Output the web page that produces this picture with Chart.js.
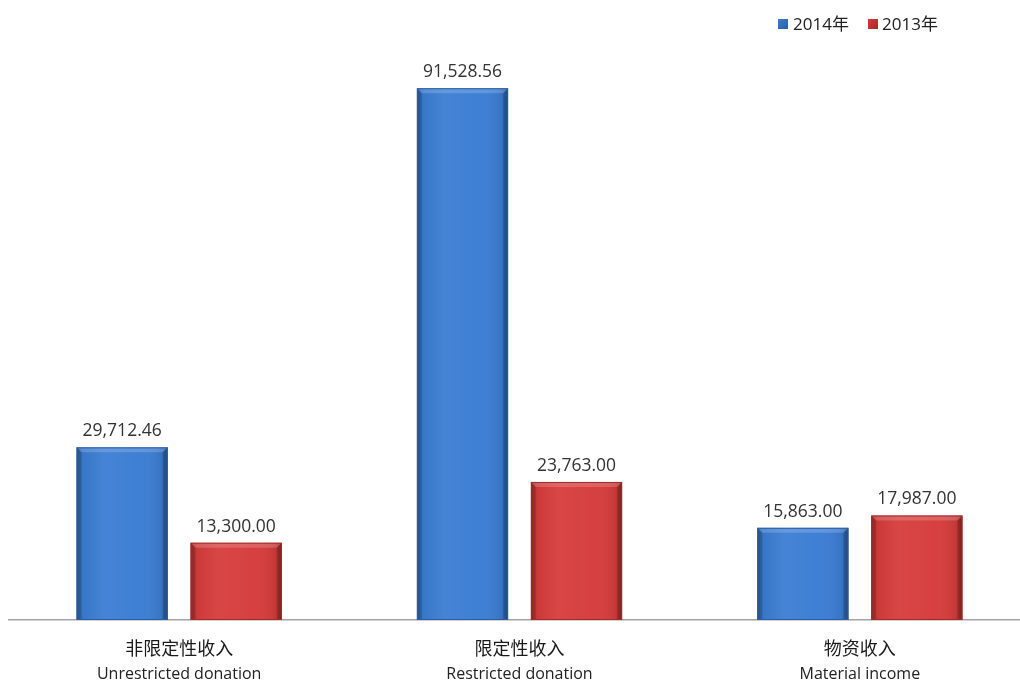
<!DOCTYPE html>
<html>
<head>
<meta charset="utf-8">
<script src="https://cdn.jsdelivr.net/npm/chart.js@4/dist/chart.umd.min.js"></script>
<style>
  html,body{margin:0;padding:0;background:#fff;overflow:hidden;}
  #wrap{position:relative;width:1030px;height:682px;}
</style>
</head>
<body>
<div id="wrap"><canvas id="c"></canvas></div>
<script>
const categoriesCN = ["非限定性收入", "限定性收入", "物资收入"];
const categoriesEN = ["Unrestricted donation", "Restricted donation", "Material income"];
const seriesNames = ["2014年", "2013年"];
const values2014 = [29712.46, 91528.56, 15863.00];
const values2013 = [13300.00, 23763.00, 17987.00];
const seriesColors = ["#3b7dd3", "#d63c3c"];
const seriesEdge = ["#2a5ea6", "#a52a2a"];

function fmt(v){
  return v.toLocaleString('en-US',{minimumFractionDigits:2, maximumFractionDigits:2});
}

const bevelPlugin = {
  id:'bevel',
  afterDatasetsDraw(chart){
    const ctx = chart.ctx;
    chart.data.datasets.forEach((ds,di)=>{
      const meta = chart.getDatasetMeta(di);
      meta.data.forEach((bar, i)=>{
        const w = bar.width, l = bar.x - w/2, r = bar.x + w/2, t = bar.y, b = bar.base;
        ctx.save();
        const g = ctx.createLinearGradient(l,0,r,0);
        g.addColorStop(0,'rgba(0,0,0,0.28)');
        g.addColorStop(0.07,'rgba(0,0,0,0.05)');
        g.addColorStop(0.3,'rgba(255,255,255,0.05)');
        g.addColorStop(0.7,'rgba(255,255,255,0.02)');
        g.addColorStop(0.93,'rgba(0,0,0,0.08)');
        g.addColorStop(1,'rgba(0,0,0,0.32)');
        ctx.fillStyle = g;
        ctx.fillRect(l,t,w,b-t);
        ctx.beginPath();
        ctx.moveTo(l,t); ctx.lineTo(r,t); ctx.lineTo(r-5,t+5); ctx.lineTo(l+5,t+5); ctx.closePath();
        ctx.fillStyle='rgba(255,255,255,0.18)';
        ctx.fill();
        ctx.beginPath();
        ctx.moveTo(l,t); ctx.lineTo(l+5,t+5); ctx.lineTo(l+5,b); ctx.lineTo(l,b); ctx.closePath();
        ctx.fillStyle='rgba(0,0,0,0.12)'; ctx.fill();
        ctx.beginPath();
        ctx.moveTo(r,t); ctx.lineTo(r-5,t+5); ctx.lineTo(r-5,b); ctx.lineTo(r,b); ctx.closePath();
        ctx.fillStyle='rgba(0,0,0,0.16)'; ctx.fill();
        ctx.strokeStyle = seriesEdge[di];
        ctx.lineWidth = 1;
        ctx.strokeRect(l+0.5,t+0.5,w-1,b-t-1);
        ctx.restore();
        ctx.save();
        ctx.font = '17.5px "Open Sans", sans-serif';
        ctx.fillStyle = '#333';
        ctx.textAlign = 'center';
        ctx.textBaseline = 'middle';
        ctx.fillText(fmt(ds.data[i]), bar.x, t - 16);
        ctx.restore();
      });
    });
    const pos = [{sq:778, tx:793},{sq:868, tx:882}];
    chart.data.datasets.forEach((ds,di)=>{
      const p = pos[di];
      ctx.save();
      const g = ctx.createLinearGradient(p.sq,19,p.sq+10,29);
      g.addColorStop(0, ds.backgroundColor);
      g.addColorStop(1, seriesEdge[di]);
      ctx.fillStyle = g;
      ctx.fillRect(p.sq,19,10,10);
      ctx.font = '17px "Open Sans", "Noto Sans CJK SC", sans-serif';
      ctx.fillStyle = '#222';
      ctx.textAlign = 'left';
      ctx.textBaseline = 'middle';
      ctx.fillText(ds.label, p.tx, 25);
      ctx.restore();
    });
  }
};

new Chart(document.getElementById('c'), {
  type:'bar',
  data:{
    labels: categoriesCN,
    datasets:[
      {label:seriesNames[0], data:values2014, backgroundColor:seriesColors[0], xAxisID:'x', barPercentage:0.8, categoryPercentage:0.67},
      {label:seriesNames[1], data:values2013, backgroundColor:seriesColors[1], xAxisID:'x', barPercentage:0.8, categoryPercentage:0.67}
    ]
  },
  options:{
    responsive:true,
    maintainAspectRatio:false,
    animation:false,
    layout:{padding:{left:9, right:0, top:39, bottom:0}},
    plugins:{legend:{display:false}, tooltip:{enabled:false}},
    scales:{
      x:{
        type:'category',
        position:'bottom',
        weight:0,
        labels: categoriesCN,
        grid:{display:false, drawTicks:false},
        border:{display:true, color:'#a3a3a3', width:1.5},
        ticks:{padding:17, color:'#1a1a1a', font:{size:18, family:'"Noto Sans CJK SC", sans-serif', lineHeight:1.2}, maxRotation:0, autoSkip:false},
        afterFit(s){ s.height = 40; }
      },
      x2:{
        type:'category',
        position:'bottom',
        weight:1,
        labels: categoriesEN,
        grid:{display:false, drawTicks:false},
        border:{display:false},
        ticks:{padding:5, color:'#222', font:{size:16, family:'"Open Sans", sans-serif', lineHeight:1.2}, maxRotation:0, autoSkip:false},
        afterFit(s){ s.height = 22; }
      },
      y:{
        display:false,
        min:0,
        max:100000
      }
    }
  },
  plugins:[bevelPlugin]
});
</script>
</body>
</html>
